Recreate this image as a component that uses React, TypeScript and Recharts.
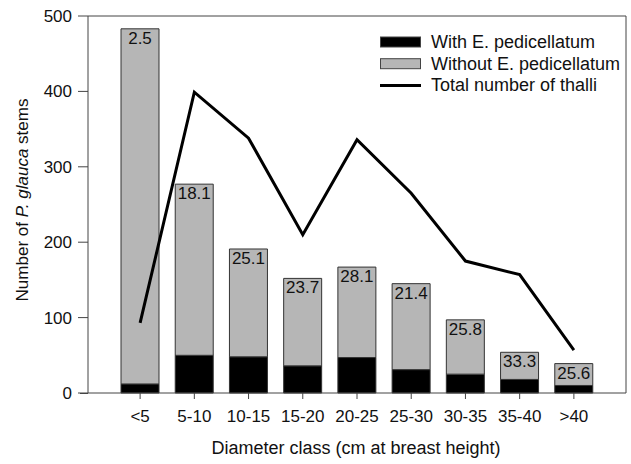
import { ComposedChart, Bar, Line, XAxis, YAxis, ReferenceLine, LabelList } from 'recharts';

const classes = ['<5', '5-10', '10-15', '15-20', '20-25', '25-30', '30-35', '35-40', '>40'];
const withStems = [12, 50, 48, 36, 47, 31, 25, 18, 10];
const withoutStems = [471, 227, 143, 116, 120, 114, 72, 36, 29];
const percentWith = ['2.5', '18.1', '25.1', '23.7', '28.1', '21.4', '25.8', '33.3', '25.6'];
const totalThalli = [93, 399, 338, 210, 336, 265, 175, 157, 57];
const yTicks = [0, 100, 200, 300, 400, 500];
const legendRows = ['With E. pedicellatum', 'Without E. pedicellatum', 'Total number of thalli'];

const data = classes.map((c, i) => ({
  cls: c,
  with: withStems[i],
  without: withoutStems[i],
  pct: percentWith[i],
  thalli: totalThalli[i],
}));

const font = '"Liberation Sans", Arial, sans-serif';
const axisColor = '#444';

function ChartLegend({ x, y }: { x: number; y: number }) {
  return (
    <g>
      {legendRows.map((label, i) => {
        const cy = y + i * 21.7;
        return (
          <g key={label}>
            {i === 2 ? (
              <line x1={x} x2={x + 41} y1={cy} y2={cy} stroke="#000" strokeWidth={3} />
            ) : (
              <rect x={x + 0.5} y={cy - 5} width={40} height={10} fill={i === 0 ? '#000' : '#b6b6b6'} stroke="#444" strokeWidth={1} />
            )}
            <text x={x + 51} y={cy} dominantBaseline="central" fontSize={18} fill="#111" fontFamily={font}>
              {label}
            </text>
          </g>
        );
      })}
    </g>
  );
}

export default function App() {
  return (
    <div style={{ position: 'absolute', left: 0, top: 0, width: 631, height: 464, background: '#fff', fontFamily: font }}>
      <ComposedChart width={631} height={464} data={data} margin={{ top: 16, right: 4, bottom: 41, left: 28 }}>
        <XAxis
          dataKey="cls"
          height={30}
          interval={0}
          padding={{ left: 25, right: 25 }}
          stroke={axisColor}
          tickSize={6}
          tick={{ fontSize: 17, fill: '#111', fontFamily: font }}
          tickMargin={11}
        />
        <YAxis
          yAxisId="left"
          width={60}
          domain={[0, 500]}
          ticks={yTicks}
          stroke={axisColor}
          tickSize={10}
          tickMargin={6}
          tick={{ fontSize: 17, fill: '#111', fontFamily: font }}
        />
        <YAxis yAxisId="right" orientation="right" width={1} domain={[0, 500]} tick={false} tickLine={false} stroke={axisColor} />
        <ReferenceLine yAxisId="left" y={500} stroke={axisColor} />
        <line x1={80} x2={88} y1={393.5} y2={393.5} stroke={axisColor} />
        <Bar yAxisId="left" dataKey="with" stackId="a" fill="#000" stroke="#333" strokeWidth={1} barSize={38} isAnimationActive={false} />
        <Bar yAxisId="left" dataKey="without" stackId="a" fill="#b6b6b6" stroke="#333" strokeWidth={1} barSize={38} isAnimationActive={false}>
          <LabelList dataKey="pct" position="insideTop" offset={3} fontSize={17} fill="#111" fontFamily={font} />
        </Bar>
        <Line yAxisId="left" dataKey="thalli" type="linear" stroke="#000" strokeWidth={3} dot={false} activeDot={false} isAnimationActive={false} />
        <ChartLegend x={380} y={42} />
        <text x={356} y={448} textAnchor="middle" dominantBaseline="central" fontSize={18} fill="#111" fontFamily={font}>
          Diameter class (cm at breast height)
        </text>
        <text x={22} y={200} textAnchor="middle" dominantBaseline="central" fontSize={17} fill="#111" fontFamily={font} transform="rotate(-90 22 200)">
          Number of <tspan fontStyle="italic">P. glauca</tspan> stems
        </text>
      </ComposedChart>
    </div>
  );
}
